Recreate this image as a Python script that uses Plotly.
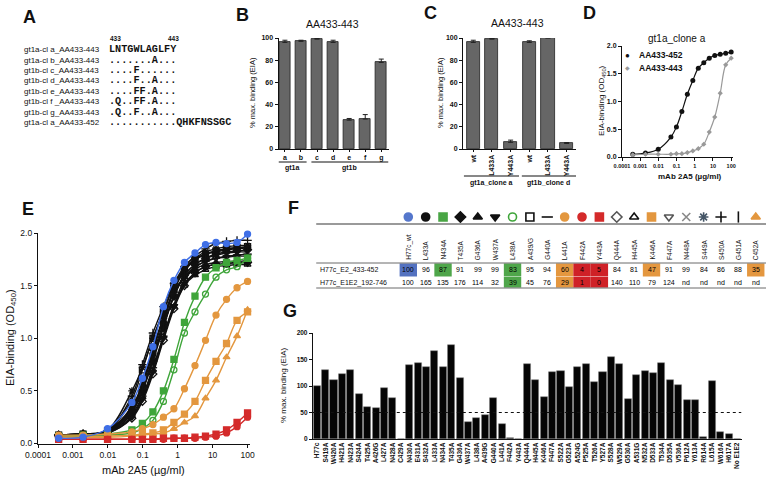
import plotly.graph_objects as go

W, H = 767, 478
def X(px): return px / W
def Y(py): return 1 - py / H

FONT = "Liberation Sans"
MONO = "Liberation Mono"
INK = "#111111"

# ---------------- data ----------------
# Panel A
a_labels = ["gt1a-cl a_AA433-443", "gt1a-cl b_AA433-443", "gt1b-cl c_AA433-443",
            "gt1b-cl d_AA433-443", "gt1b-cl e_AA433-443", "gt1b-cl f _AA433-443",
            "gt1b-cl g_AA433-443", "gt1a-cl a_AA433-452"]
a_seqs = ["LNTGWLAGLFY", ".......A...", "....F......", "....F..A...", "....FF.A...",
          ".Q..FF.A...", ".Q..F..A...", "...........QHKFNSSGC"]
a_pos = ["433", "443"]

# Panel B
b_cats = ["a", "b", "c", "d", "e", "f", "g"]
b_vals = [96, 97, 99, 96, 26, 27, 78]
b_err = [2, 1, 0.5, 2, 1.5, 4, 3]
b_groups = ["gt1a", "gt1b"]

# Panel C
c_cats = ["wt", "L433A", "Y443A", "wt", "L433A", "Y443A"]
c_vals = [96, 99, 6, 96, 100, 5]
c_err = [2, 0.5, 2, 1.5, 0.2, 0.8]
c_groups = ["gt1a_clone a", "gt1b_clone d"]

# Panel D / E concentrations (ug/ml)
conc = [0.00039, 0.00195, 0.0098, 0.0488, 0.0977, 0.195, 0.39, 0.78,
        1.56, 3.125, 6.25, 12.5, 25, 50, 100]
d_names = ["AA433-452", "AA433-443"]
d_433_452 = [0.05, 0.07, 0.14, 0.36, 0.54, 0.82, 1.13, 1.38, 1.60, 1.70, 1.78, 1.83, 1.85, 1.87, 1.89]
d_433_443 = [0.04, 0.05, 0.05, 0.05, 0.06, 0.06, 0.08, 0.11, 0.15, 0.23, 0.45, 0.72, 1.15, 1.66, 1.78]

# Panel E series
e_h77c_wt = [0.05, 0.06, 0.14, 0.39, 0.62, 0.92, 1.30, 1.55, 1.72, 1.81, 1.89, 1.91, 1.90, 1.91, 1.99]
e_l433a = [0.07, 0.08, 0.12, 0.35, 0.55, 0.85, 1.15, 1.45, 1.65, 1.75, 1.80, 1.82, 1.84, 1.85, 1.86]
e_n434a = [0.07, 0.08, 0.09, 0.13, 0.19, 0.30, 0.50, 0.80, 1.15, 1.40, 1.58, 1.67, 1.72, 1.74, 1.76]
e_t435a = [0.08, 0.09, 0.11, 0.30, 0.50, 0.78, 1.10, 1.40, 1.60, 1.70, 1.76, 1.80, 1.82, 1.83, 1.84]
e_g436a = [0.07, 0.08, 0.12, 0.33, 0.55, 0.90, 1.20, 1.45, 1.58, 1.66, 1.70, 1.72, 1.73, 1.73, 1.74]
e_w437a = [0.08, 0.09, 0.10, 0.25, 0.42, 0.68, 1.00, 1.30, 1.52, 1.62, 1.68, 1.70, 1.71, 1.72, 1.72]
e_l438a = [0.07, 0.07, 0.08, 0.10, 0.14, 0.22, 0.40, 0.70, 1.05, 1.25, 1.42, 1.58, 1.65, 1.68, 1.76]
e_a439g = [0.08, 0.09, 0.12, 0.42, 0.70, 1.00, 1.25, 1.50, 1.66, 1.75, 1.80, 1.83, 1.85, 1.86, 1.87]
e_g440a = [0.07, 0.08, 0.10, 0.28, 0.45, 0.72, 1.02, 1.32, 1.55, 1.67, 1.73, 1.76, 1.78, 1.79, 1.80]
e_l441a = [0.08, 0.08, 0.09, 0.11, 0.14, 0.18, 0.25, 0.33, 0.52, 0.74, 0.98, 1.22, 1.37, 1.48, 1.54]
e_f442a = [0.04, 0.04, 0.04, 0.04, 0.04, 0.04, 0.04, 0.05, 0.05, 0.05, 0.06, 0.07, 0.10, 0.16, 0.25]
e_y443a = [0.04, 0.04, 0.04, 0.04, 0.04, 0.04, 0.05, 0.05, 0.05, 0.06, 0.07, 0.09, 0.13, 0.20, 0.29]
e_q444a = [0.08, 0.09, 0.10, 0.24, 0.40, 0.66, 0.98, 1.28, 1.50, 1.62, 1.68, 1.70, 1.71, 1.72, 1.72]
e_h445a = [0.08, 0.09, 0.11, 0.26, 0.44, 0.70, 1.02, 1.30, 1.50, 1.60, 1.65, 1.68, 1.69, 1.70, 1.70]
e_k446a = [0.06, 0.06, 0.07, 0.08, 0.09, 0.10, 0.13, 0.20, 0.28, 0.40, 0.60, 0.78, 0.95, 1.17, 1.25]
e_f447a = [0.07, 0.08, 0.11, 0.30, 0.50, 0.80, 1.12, 1.40, 1.58, 1.68, 1.73, 1.76, 1.77, 1.78, 1.78]
e_n448a = [0.08, 0.09, 0.12, 0.34, 0.58, 0.88, 1.18, 1.46, 1.64, 1.74, 1.80, 1.83, 1.85, 1.86, 1.86]
e_s449a = [0.08, 0.09, 0.13, 0.50, 0.72, 1.00, 1.25, 1.50, 1.66, 1.76, 1.82, 1.85, 1.87, 1.88, 1.88]
e_s450a = [0.08, 0.09, 0.12, 0.45, 0.75, 1.05, 1.30, 1.52, 1.68, 1.78, 1.85, 1.90, 1.92, 1.93, 1.93]
e_g451a = [0.07, 0.08, 0.11, 0.32, 0.52, 0.82, 1.12, 1.40, 1.60, 1.70, 1.76, 1.79, 1.81, 1.82, 1.82]
e_c452a = [0.06, 0.06, 0.06, 0.07, 0.08, 0.09, 0.10, 0.14, 0.20, 0.26, 0.43, 0.60, 0.82, 1.02, 1.27]

# Panel F table
f_cols = ["H77c_wt", "L433A", "N434A", "T435A", "G436A", "W437A", "L438A", "A439/G", "G440A",
          "L441A", "F442A", "Y443A", "Q444A", "H445A", "K446A", "F447A", "N448A", "S449A",
          "S450A", "G451A", "C452A"]
f_rows = ["H77c_E2_433-452", "H77c_E1E2_192-746"]
f_row1 = ["100", "96", "87", "91", "99", "99", "83", "95", "94", "60", "4", "5", "84", "81",
          "47", "91", "99", "84", "86", "88", "35"]
f_row2 = ["100", "165", "135", "176", "114", "32", "39", "45", "76", "29", "1", "0", "140",
          "110", "79", "124", "nd", "nd", "nd", "nd", "nd"]

# Panel G
g_cats = ["H77c", "S419A", "W420A", "H421A", "N423A", "S424A", "T425A", "A426G", "L427A",
          "N428A", "C429A", "N430A", "E431A", "S432A", "L433A", "N434A", "T435A", "G436A",
          "W437A", "L438A", "A439G", "G440A", "L441A", "F442A", "Y443A", "Q444A", "H445A",
          "K446A", "F447A", "S522A", "G523A", "A524G", "P525A", "T526A", "Y527A", "S528A",
          "W529A", "G530A", "A531G", "N532A", "D533A", "T534A", "D535A", "V536A", "P612A",
          "Y613A", "R614A", "L615A", "W616A", "H617A", "No E1E2"]
g_vals = [100, 130, 112, 122, 131, 84, 61, 58, 97, 77, 0, 140, 144, 135, 166, 136, 178, 115,
          33, 39, 46, 77, 29, 2, 0, 141, 111, 80, 126, 129, 99, 136, 141, 107, 127, 155, 142,
          76, 121, 129, 124, 143, 112, 102, 73, 73, 4, 109, 12.5, 10, 0]
g_cutoff = 50

# ---------------- styles ----------------
BLUE, GREEN, ORANGE, RED, BLACK = "#3f6fe6", "#3fa53a", "#e3973f", "#d42a2a", "#111111"
e_series = [  # (values, color, symbol)
    (e_l433a, BLACK, "circle"), (e_t435a, BLACK, "diamond"), (e_g436a, BLACK, "triangle-up"),
    (e_w437a, BLACK, "triangle-down"), (e_a439g, BLACK, "square-open"), (e_g440a, BLACK, "line-ew-open"),
    (e_q444a, BLACK, "diamond-open"), (e_h445a, BLACK, "triangle-up-open"),
    (e_f447a, BLACK, "triangle-down-open"), (e_n448a, BLACK, "x-thin-open"),
    (e_s449a, BLACK, "asterisk-open"), (e_s450a, BLACK, "cross-thin-open"), (e_g451a, BLACK, "line-ns-open"),
    (e_n434a, GREEN, "square"), (e_l438a, GREEN, "circle-open"),
    (e_l441a, ORANGE, "circle"), (e_k446a, ORANGE, "square"), (e_c452a, ORANGE, "triangle-up"),
    (e_f442a, RED, "circle"), (e_y443a, RED, "square"),
    (e_h77c_wt, BLUE, "circle"),
]
f_sym = ["circle", "circle", "square", "diamond", "triangle-up", "triangle-down", "circle-open",
         "square-open", "line-ew-open", "circle", "circle", "square", "diamond-open",
         "triangle-up-open", "square", "triangle-down-open", "x-thin-open", "asterisk-open",
         "cross-thin-open", "line-ns-open", "triangle-up"]
f_col = ["#5577cc", BLACK, "#49a544", BLACK, BLACK, BLACK, "#3fa53a", BLACK, BLACK, ORANGE, RED,
         RED, "#555555", BLACK, ORANGE, "#555555", "#888888", "#445566", BLACK, BLACK, ORANGE]
CB, CG, CO, CR = "#5472c0", "#4fa64a", "#e4973f", "#cf2127"
f_fill1 = [CB, None, CG, None, None, None, CG, None, None, CO, CR, CR, None, None, CO, None,
           None, None, None, None, CO]
f_fill2 = [None, None, None, None, None, None, CG, None, None, CO, CR, CR, None, None, None,
           None, None, None, None, None, None]

fig = go.Figure()

def axis(dom, **kw):
    d = dict(domain=dom, showgrid=False, zeroline=False, showline=True, linecolor=INK,
             linewidth=1, ticks="outside", ticklen=3, tickwidth=1, tickcolor=INK, automargin=False,
             tickfont=dict(family=FONT, size=7, color=INK, weight="bold"))
    d.update(kw)
    return d

anns = []
shapes = []
def ann(text, px, py, size, angle=0, xa="center", ya="middle", bold=False, family=FONT,
        color=INK):
    anns.append(dict(text=text, x=X(px), y=Y(py), xref="paper", yref="paper", showarrow=False,
                     textangle=angle, xanchor=xa, yanchor=ya,
                     font=dict(family=family, size=size, color=color,
                               weight="bold" if bold else "normal")))

# Panel letters
for L, px, py in [("A", 29, 17), ("B", 243, 15), ("C", 430, 13), ("D", 589, 13),
                  ("E", 28, 209), ("F", 293, 208), ("G", 290, 311)]:
    ann(L, px, py, 18, bold=True)

# ---------------- Panel A ----------------
ann(a_pos[0], 115, 38, 6.5, bold=True)
ann(a_pos[1], 173, 38, 6.5, bold=True)
for i, (lab, s) in enumerate(zip(a_labels, a_seqs)):
    py = 49.5 + i * 10.5
    ann(lab, 22, py, 8, xa="left")
    ann(s, 107, py, 10.2, xa="left", bold=True, family=MONO)

# ---------------- Panel B ----------------
fig.add_trace(go.Bar(x=b_cats, y=b_vals, width=0.69, xaxis="x", yaxis="y",
                     marker=dict(color="#666666", line=dict(color="#222222", width=0.8)),
                     error_y=dict(type="data", array=b_err, arrayminus=[0] * len(b_err),
                                  symmetric=False, color="#222", thickness=1, width=2.5),
                     showlegend=False))
ann("AA433-443", 332, 24, 10.5)
ann("% max. binding (EIA)", 252, 93, 7.5, angle=-90)
for g, (x0, x1) in zip(b_groups, [(-0.4, 1.35), (1.65, 6.45)]):
    shapes.append(dict(type="line", xref="x", yref="paper", x0=x0, x1=x1, y0=Y(162), y1=Y(162),
                       line=dict(color=INK, width=1)))
    anns.append(dict(text=g, x=(x0 + x1) / 2, y=Y(168), xref="x", yref="paper", showarrow=False,
                     font=dict(family=FONT, size=7, color=INK, weight="bold")))

# ---------------- Panel C ----------------
c_idx = list(range(len(c_cats)))
fig.add_trace(go.Bar(x=c_idx, y=c_vals, width=0.7, xaxis="x2", yaxis="y2",
                     marker=dict(color="#666666", line=dict(color="#222222", width=0.8)),
                     error_y=dict(type="data", array=c_err, arrayminus=[0] * len(c_err),
                                  symmetric=False, color="#222", thickness=1, width=2.5),
                     showlegend=False))
ann("AA433-443", 517, 23, 10.5)
ann("% max. binding (EIA)", 440, 93, 7.5, angle=-90)
for g, (x0, x1) in zip(c_groups, [(-0.5, 2.45), (2.6, 5.5)]):
    shapes.append(dict(type="line", xref="x2", yref="paper", x0=x0, x1=x1, y0=Y(176), y1=Y(176),
                       line=dict(color=INK, width=1)))
    anns.append(dict(text=g, x=(x0 + x1) / 2, y=Y(183), xref="x2", yref="paper", showarrow=False,
                     font=dict(family=FONT, size=7, color=INK, weight="bold")))

# ---------------- Panel D ----------------
GRAY = "#999999"
for vals, col, sym in [(d_433_452, BLACK, "circle"), (d_433_443, GRAY, "diamond")]:
    fig.add_trace(go.Scatter(x=conc, y=vals, mode="lines+markers", xaxis="x3", yaxis="y3",
                             line=dict(color=col, width=1.2, shape="spline"), showlegend=False,
                             marker=dict(symbol=sym, size=5 if col == BLACK else 4, color=col),
                             cliponaxis=False))
# key (text glyphs)
ann("●", 627, 55, 8, color=BLACK)
ann(d_names[0], 637, 55, 8.5, xa="left", bold=True)
ann("◆", 627, 68, 6, color=GRAY)
ann(d_names[1], 637, 68, 8.5, xa="left", bold=True)
ann("gt1a_clone a", 677, 38, 10)
ann("EIA-binding (OD<sub>450</sub>)", 602, 101, 8, angle=-90)
ann("mAb 2A5 (µg/ml)", 690, 176, 8, bold=True)

# ---------------- Panel E ----------------
for vals, col, sym in e_series:
    fig.add_trace(go.Scatter(x=conc, y=vals, mode="lines+markers", xaxis="x4", yaxis="y4",
                             line=dict(color=col, width=1.4, shape="spline"),
                             marker=dict(symbol=sym, size=6, color=col, line=dict(color=col, width=1.3)),
                             showlegend=False, cliponaxis=False))
ann("EIA-binding (OD<sub>450</sub>)", 11, 338, 11, angle=-90)
ann("mAb 2A5 (µg/ml)", 143, 470, 11)

# ---------------- Panel F ----------------
fidx = list(range(len(f_cols)))
fig.add_trace(go.Scatter(x=fidx, y=[217] * len(fidx), mode="markers", xaxis="x5", yaxis="y5",
                         marker=dict(symbol=f_sym, size=8, color=f_col,
                                     line=dict(color=f_col, width=1.6)),
                         showlegend=False, cliponaxis=False))
for i, c in enumerate(f_cols):
    anns.append(dict(text=c, x=i, y=262, xref="x5", yref="y5", showarrow=False, textangle=-90,
                     xanchor="center", yanchor="bottom",
                     font=dict(family=FONT, size=6.5, color=INK)))
    for row, fills, ypx, y0, y1 in [(f_row1, f_fill1, 269.5, 263.5, 276.5),
                                    (f_row2, f_fill2, 282.5, 277, 287.5)]:
        if fills[i]:
            shapes.append(dict(type="rect", xref="x5", yref="y5", x0=i - 0.5, x1=i + 0.5,
                               y0=y0, y1=y1, fillcolor=fills[i], line=dict(width=0), layer="below"))
        anns.append(dict(text=row[i], x=i, y=ypx, xref="x5", yref="y5", showarrow=False,
                         font=dict(family=FONT, size=7, color="#000000")))
for r, ypx in zip(f_rows, [269.5, 282.5]):
    anns.append(dict(text=r, x=-5.2, y=ypx, xref="x5", yref="y5", showarrow=False, xanchor="left",
                     font=dict(family=FONT, size=7, color=INK)))
shapes.append(dict(type="line", xref="x5", yref="y5", x0=-5.3, x1=20.6, y0=224, y1=224,
                   line=dict(color="#9a9a9a", width=2)))
for yl in [263, 288]:
    shapes.append(dict(type="line", xref="x5", yref="y5", x0=-5.3, x1=20.6, y0=yl, y1=yl,
                       line=dict(color="#444444", width=0.8)))

# ---------------- Panel G ----------------
fig.add_trace(go.Bar(x=g_cats, y=g_vals, width=0.84, xaxis="x6", yaxis="y6",
                     marker=dict(color="#050505", line=dict(color="#777777", width=0.5)),
                     showlegend=False))
shapes.append(dict(type="line", xref="x6", yref="y6", x0=-0.5, x1=50.5, y0=g_cutoff, y1=g_cutoff,
                   line=dict(color=INK, width=1, dash="dot")))
ann("% max. binding (EIA)", 283, 386, 8, angle=-90)

# ---------------- layout / axes ----------------
logt = dict(type="log", tickvals=[1e-4, 1e-3, 1e-2, 1e-1, 1, 10, 100],
            ticktext=["0.0001", "0.001", "0.01", "0.1", "1", "10", "100"])
lay = dict(
    xaxis=axis([X(278.5), X(388.5)], anchor="y", range=[-0.4, 6.45], ticklen=2),
    yaxis=axis([Y(149), Y(38)], anchor="x", range=[0, 100], tickvals=[0, 20, 40, 60, 80, 100]),
    xaxis2=axis([X(463), X(576)], anchor="y2", range=[-0.55, 5.5], tickvals=c_idx, ticktext=c_cats,
                tickangle=-90, ticklen=2),
    yaxis2=axis([Y(149), Y(38)], anchor="x2", range=[0, 100], tickvals=[0, 20, 40, 60, 80, 100]),
    xaxis3=axis([X(622), X(733)], anchor="y3", range=[-4, 2.1],
                tickfont=dict(family=FONT, size=5.5, color=INK, weight="bold"), **logt),
    yaxis3=axis([Y(157), Y(46)], anchor="x3", range=[0, 2], tickvals=[0, 0.5, 1, 1.5, 2],
                tickformat=".1f"),
    xaxis4=axis([X(38), X(250)], anchor="y4", range=[-4, 2.07], linewidth=1.3,
                tickfont=dict(family=FONT, size=8.5, color=INK), **logt),
    yaxis4=axis([Y(443.5), Y(233)], anchor="x4", range=[0, 2], tickvals=[0, 0.5, 1, 1.5, 2],
                tickformat=".1f", linewidth=1.3, tickfont=dict(family=FONT, size=8.5, color=INK)),
    xaxis5=dict(domain=[X(315), X(766)], range=[-5.37, 20.59], visible=False, anchor="y5",
                automargin=False),
    yaxis5=dict(domain=[Y(292), Y(205)], range=[292, 205], visible=False, anchor="x5",
                automargin=False),
    xaxis6=axis([X(312.8), X(741.5)], anchor="y6", range=[-0.5, 50.5], ticks="", tickangle=-90,
                tickfont=dict(family=FONT, size=6.5, color=INK, weight="bold")),
    yaxis6=axis([Y(439), Y(333)], anchor="x6", range=[0, 200], tickvals=[0, 50, 100, 150, 200],
                tickfont=dict(family=FONT, size=6.5, color=INK, weight="bold")),
)
fig.update_layout(
    width=W, height=H, margin=dict(l=0, r=0, t=0, b=0, autoexpand=False), autosize=False,
    paper_bgcolor="white", plot_bgcolor="white", bargap=0, showlegend=False,
    font=dict(family=FONT, color=INK),
    annotations=anns, shapes=shapes,
    **lay,
)
fig.write_html("out.html", config={"displayModeBar": False},
               post_script="document.body.style.margin='0px';document.body.style.overflow='hidden';")
